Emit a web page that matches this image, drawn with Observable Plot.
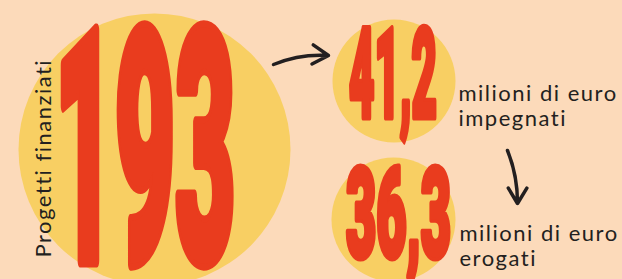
<!DOCTYPE html>
<html><head><meta charset="utf-8">
<script src="https://cdn.jsdelivr.net/npm/d3@7"></script>
<script src="https://cdn.jsdelivr.net/npm/@observablehq/plot@0.6"></script>
<style>
html,body{margin:0;padding:0;background:#FCDABA;}
#chart svg{display:block;}
</style></head><body><div id="chart"></div>
<script>
// ---- data ----
const figures = ["193", "41,2", "36,3"];
const labels = ["Progetti finanziati", "milioni di euro\nimpegnati", "milioni di euro\nerogati"];

// ---- layout (pixel space, mapped through identity-like linear scales) ----
const W = 622, H = 279;
const circleX = [154, 393.5, 393];
const circleY = [149, 80.5, 219];
const circleR = [136, 61.5, 62];
const figLeft = [47, 345, 342];
const figBottom = [267, 120, 260];
const figHeight = [244, 95, 97];
const figWidth = [195, 95, 112];
const figStroke = [14, 7, 7];
const labelX = [50, 458, 459];
const labelY = [257, 125, 265];
const arrowFrom = [[273, 64], [507, 150]];
const arrowTo = [[328, 55], [517, 203]];

const RED = "#E93C1E", YELLOW = "#F8CF63", BG = "#FCDABA", INK = "#231F20";
const CAP = 0.711;

const circles = figures.map((f, i) => ({cx: circleX[i], cy: circleY[i], r: circleR[i]}));
const figs = figures.map((f, i) => ({
  text: f,
  x: figLeft[i] + figStroke[i] / 2,
  y: figBottom[i] - figStroke[i] / 2,
  size: (figHeight[i] - figStroke[i]) / CAP,
  len: figWidth[i] - figStroke[i]
}));
const side = labels.slice(1).map((t, i) => ({text: t, x: labelX[i + 1], y: labelY[i + 1]}));
const vert = [{text: labels[0], x: labelX[0], y: labelY[0]}];
const arrows = arrowFrom.map((a, i) => ({x1: a[0], y1: a[1], x2: arrowTo[i][0], y2: arrowTo[i][1]}));

const chart = Plot.plot({
  width: W, height: H,
  margin: 0,
  x: {domain: [0, W], range: [0, W], axis: null},
  y: {domain: [0, H], range: [0, H], axis: null},
  r: {type: "identity"},
  style: {background: BG, overflow: "visible"},
  marks: [
    Plot.dot(circles, {x: "cx", y: "cy", r: "r", fill: YELLOW, stroke: null}),
    Plot.text(figs.filter((d, i) => i === 0), {
      x: "x", y: "y", text: "text", fontSize: figs[0].size, fill: RED, stroke: RED,
      strokeWidth: figStroke[0], strokeLinejoin: "round",
      fontFamily: "Roboto, 'Liberation Sans', sans-serif", fontWeight: 900,
      textAnchor: "start", lineAnchor: "bottom", className: "fig0"
    }),
    Plot.text(figs.filter((d, i) => i > 0), {
      x: "x", y: "y", text: "text", fontSize: figs[1].size, fill: RED, stroke: RED,
      strokeWidth: figStroke[1], strokeLinejoin: "round",
      fontFamily: "Roboto, 'Liberation Sans', sans-serif", fontWeight: 900,
      textAnchor: "start", lineAnchor: "bottom", className: "fig12"
    }),
    Plot.text(vert, {
      x: "x", y: "y", text: "text", rotate: -90, fontSize: 22, fill: INK,
      fontFamily: "Lato, sans-serif", textAnchor: "start", lineAnchor: "bottom", className: "lab"
    }),
    Plot.text(side, {
      x: "x", y: "y", text: "text", fontSize: 22, lineHeight: 25 / 22, fill: INK,
      fontFamily: "Lato, sans-serif", textAnchor: "start", lineAnchor: "bottom", className: "lab"
    }),
    Plot.arrow(arrows.slice(0, 1), {x1: "x1", y1: "y1", x2: "x2", y2: "y2", bend: 13,
      stroke: INK, strokeWidth: 3.5, headLength: 15, headAngle: 62}),
    Plot.arrow(arrows.slice(1), {x1: "x1", y1: "y1", x2: "x2", y2: "y2", bend: 11,
      stroke: INK, strokeWidth: 3.5, headLength: 15, headAngle: 62})
  ]
});

d3.select(chart).selectAll("g.fig0 text").each(function(d, i) {
  this.setAttribute("textLength", figs[0].len);
  this.setAttribute("lengthAdjust", "spacingAndGlyphs");
});
d3.select(chart).selectAll("g.fig12 text").each(function(d, i) {
  this.setAttribute("textLength", figs[i + 1].len);
  this.setAttribute("lengthAdjust", "spacingAndGlyphs");
});
d3.select(chart).selectAll("g.lab text").style("letter-spacing", "1.5px");

document.getElementById("chart").appendChild(chart);
</script></body></html>
